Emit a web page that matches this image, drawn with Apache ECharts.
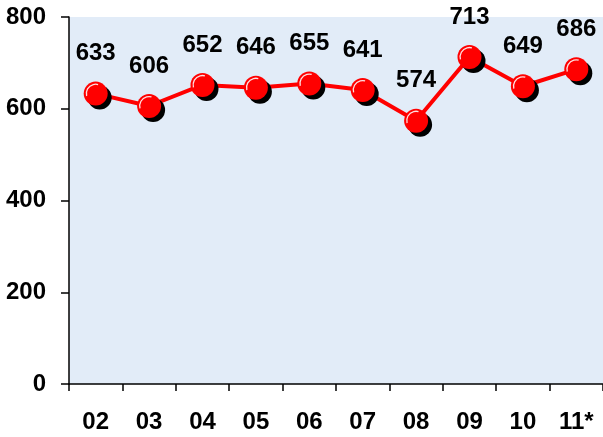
<!DOCTYPE html>
<html>
<head>
<meta charset="utf-8">
<script src="https://cdn.jsdelivr.net/npm/echarts@6/dist/echarts.min.js"></script>
<style>html,body{margin:0;padding:0;background:#fff;}#chart{width:603px;height:437px;}</style>
</head>
<body>
<div id="chart"></div>
<script>
var categories = ['02','03','04','05','06','07','08','09','10','11*'];
var values = [633, 606, 652, 646, 655, 641, 574, 713, 649, 686];
var yTicks = {min: 0, max: 800, interval: 200};

var chart = echarts.init(document.getElementById('chart'), null, {renderer: 'canvas'});
var font = 'Arial, "Liberation Sans", sans-serif';
chart.setOption({
  animation: false,
  grid: {left: 69, top: 17, bottom: 53, width: 537, backgroundColor: '#e2ecf8', show: true, borderWidth: 0},
  xAxis: {
    type: 'category', data: categories, boundaryGap: true,
    axisLine: {lineStyle: {color: '#000', width: 1.5}},
    axisTick: {show: true, length: 7, lineStyle: {color: '#000', width: 1.5}},
    axisLabel: {color: '#000', fontWeight: 'bold', fontSize: 24, fontFamily: font, margin: 26}
  },
  yAxis: {
    type: 'value', min: yTicks.min, max: yTicks.max, interval: yTicks.interval,
    splitLine: {show: false},
    axisLine: {show: true, lineStyle: {color: '#000', width: 1.5}},
    axisTick: {show: true, length: 8, lineStyle: {color: '#000', width: 1.5}},
    axisLabel: {color: '#000', fontWeight: 'bold', fontSize: 24, fontFamily: font, margin: 23}
  },
  series: [{
    type: 'line', data: values,
    symbol: 'circle', symbolSize: 24,
    lineStyle: {color: '#ff0000', width: 4},
    itemStyle: {color: '#ff0000', shadowColor: '#000', shadowOffsetX: 4, shadowOffsetY: 4, shadowBlur: 0},
    label: {show: true, position: 'top', distance: 16, color: '#000', fontWeight: 'bold', fontSize: 24, fontFamily: font}
  }, {
    type: 'line', data: values, silent: true,
    lineStyle: {width: 0, opacity: 0},
    symbol: 'path://M-9.66,2.59 A10,10 0 0 1 2.59,-9.66', symbolSize: [11.8, 11.8], symbolOffset: [-3.5, -3.5],
    itemStyle: {color: 'rgba(0,0,0,0)', borderColor: '#ffe0e0', borderWidth: 1.3},
    label: {show: false}, z: 5
  }]
});
</script>
</body>
</html>
